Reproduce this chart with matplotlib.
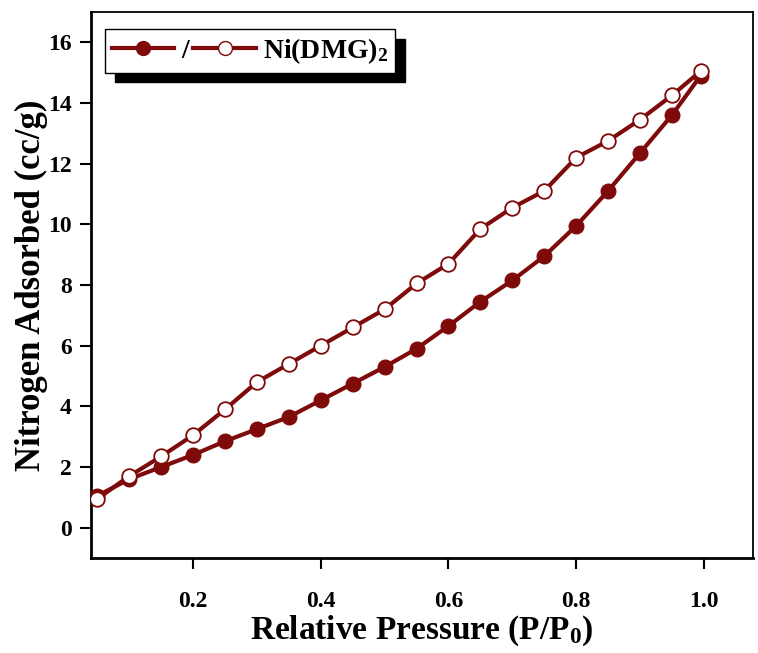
import matplotlib

matplotlib.use("Agg")
import matplotlib.pyplot as plt
from matplotlib.lines import Line2D

# relative pressure points
pressure = [0.05, 0.10, 0.15, 0.20, 0.25, 0.30, 0.35, 0.40, 0.45, 0.50,
            0.55, 0.60, 0.65, 0.70, 0.75, 0.80, 0.85, 0.90, 0.95, 0.995]
adsorption = [1.05, 1.60, 2.00, 2.40, 2.85, 3.25, 3.65, 4.20, 4.75, 5.30,
              5.90, 6.65, 7.45, 8.15, 8.95, 9.95, 11.10, 12.35, 13.60, 14.90]
desorption = [0.95, 1.70, 2.35, 3.05, 3.90, 4.80, 5.40, 6.00, 6.60, 7.20,
              8.05, 8.70, 9.85, 10.55, 11.10, 12.20, 12.75, 13.45, 14.25, 15.05]
x_ticks = [0.2, 0.4, 0.6, 0.8, 1.0]
y_ticks = [0, 2, 4, 6, 8, 10, 12, 14, 16]

COLOR = "#7f0a0a"

plt.rcParams["font.family"] = ["Liberation Serif", "DejaVu Serif"]
plt.rcParams["font.weight"] = "bold"
plt.rcParams["mathtext.fontset"] = "custom"
plt.rcParams["mathtext.rm"] = "Liberation Serif:bold"
plt.rcParams["mathtext.it"] = "Liberation Serif:bold"
plt.rcParams["mathtext.bf"] = "Liberation Serif:bold"

fig = plt.figure(figsize=(7.58, 6.53), dpi=100)
ax = fig.add_axes([91 / 758, 1 - 558 / 653, (753 - 91) / 758, (558 - 12) / 653])

ax.plot(pressure, adsorption, color=COLOR, linewidth=3, marker="o", markersize=10.5,
        markerfacecolor=COLOR, markeredgecolor=COLOR, zorder=3)
ax.plot(pressure, desorption, color=COLOR, linewidth=3, marker="o", markersize=10.5,
        markerfacecolor="white", markeredgecolor=COLOR, markeredgewidth=1.3, zorder=4)

ax.set_xlim(0.04, 1.077)
ax.set_ylim(-1.0, 17.0)
ax.set_xticks(x_ticks)
ax.set_xticklabels([f"{t:.1f}" for t in x_ticks])
ax.set_yticks(y_ticks)
ax.tick_params(axis="both", direction="out", length=8, width=1.5, labelsize=17)
ax.tick_params(axis="y", pad=6)
ax.tick_params(axis="x", pad=16)
for side in ["left", "bottom"]:
    ax.spines[side].set_linewidth(2.0)
for side in ["top", "right"]:
    ax.spines[side].set_linewidth(1.3)

ax.set_xlabel("Relative Pressure (P/P$_0$)", fontsize=24, fontweight="bold", labelpad=1)
ax.set_ylabel("Nitrogen Adsorbed (cc/g)", fontsize=25, fontweight="bold", labelpad=0)

h1 = Line2D([], [], color=COLOR, linewidth=3, marker="o", markersize=10,
            markerfacecolor=COLOR, markeredgecolor=COLOR)
h2 = Line2D([], [], color=COLOR, linewidth=3, marker="o", markersize=10,
            markerfacecolor="white", markeredgecolor=COLOR)
leg = ax.legend([h1, h2], ["/", "Ni(DMG)$_2$"], ncol=2, loc="upper left",
                bbox_to_anchor=(14 / 662, 1 - 17 / 546), borderaxespad=0,
                fancybox=False, edgecolor="black", framealpha=1,
                shadow={"color": "black", "alpha": 1, "ox": 7, "oy": -7},
                handlelength=2.25, handletextpad=0.25, columnspacing=0.15,
                prop={"family": "Liberation Serif", "weight": "bold", "size": 20},
                borderpad=0.25)
leg.get_frame().set_linewidth(1.0)

fig.savefig("out.png", dpi=100)
